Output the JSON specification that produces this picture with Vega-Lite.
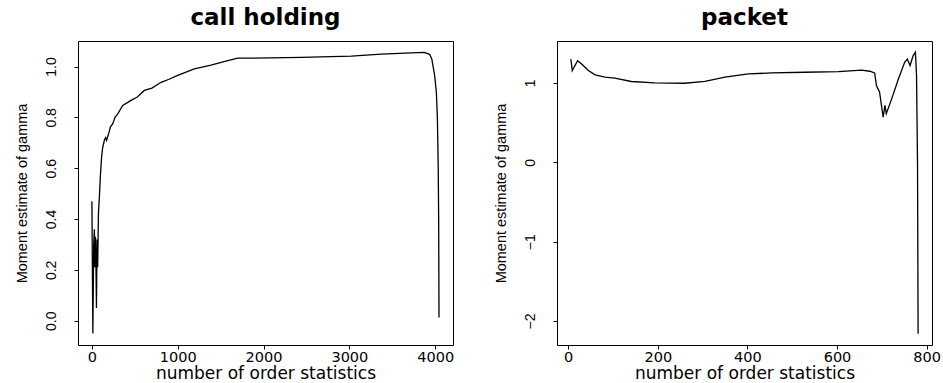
{
  "$schema": "https://vega.github.io/schema/vega-lite/v6.json",
  "background": "white",
  "padding": {"left": 13, "top": 6, "right": 0, "bottom": 0},
  "spacing": 104,
  "bounds": "flush",
  "config": {
    "view": {"stroke": "black", "strokeWidth": 1},
    "axis": {
      "domain": false, "grid": false, "tickColor": "black", "tickSize": 4, "tickWidth": 1,
      "labelColor": "black", "titleColor": "black", "titleFontWeight": "normal"
    },
    "axisX": {"labelFont": "DejaVu Sans", "labelFontSize": 14.5, "labelPadding": 1, "titleFont": "DejaVu Sans", "titleFontSize": 17, "titlePadding": 2},
    "axisY": {"labelFont": "Liberation Sans Narrow, Liberation Sans", "labelFontSize": 14, "labelAngle": -90, "labelPadding": 16, "titleFont": "Liberation Sans Narrow, Liberation Sans", "titleFontSize": 14.5, "titlePadding": 15},
    "title": {"font": "DejaVu Sans", "fontSize": 23, "fontWeight": "bold", "anchor": "middle", "offset": 11, "color": "black"}
  },
  "hconcat": [
    {
      "title": "call holding",
      "width": 375, "height": 304,
      "data": {"values": [
        {"k": 1, "gamma": 0.47}, {"k": 12, "gamma": -0.05}, {"k": 22, "gamma": 0.30}, {"k": 30, "gamma": 0.36},
        {"k": 36, "gamma": 0.21}, {"k": 42, "gamma": 0.33}, {"k": 48, "gamma": 0.22}, {"k": 54, "gamma": 0.05},
        {"k": 61, "gamma": 0.32}, {"k": 68, "gamma": 0.21}, {"k": 77, "gamma": 0.42}, {"k": 90, "gamma": 0.50},
        {"k": 100, "gamma": 0.57}, {"k": 113, "gamma": 0.64}, {"k": 126, "gamma": 0.68}, {"k": 146, "gamma": 0.71},
        {"k": 160, "gamma": 0.72}, {"k": 172, "gamma": 0.71}, {"k": 185, "gamma": 0.725}, {"k": 200, "gamma": 0.74},
        {"k": 216, "gamma": 0.762}, {"k": 244, "gamma": 0.775}, {"k": 270, "gamma": 0.80}, {"k": 302, "gamma": 0.814},
        {"k": 360, "gamma": 0.847}, {"k": 457, "gamma": 0.867}, {"k": 530, "gamma": 0.88}, {"k": 612, "gamma": 0.906},
        {"k": 700, "gamma": 0.915}, {"k": 806, "gamma": 0.938}, {"k": 900, "gamma": 0.95}, {"k": 1000, "gamma": 0.965},
        {"k": 1194, "gamma": 0.991}, {"k": 1388, "gamma": 1.006}, {"k": 1550, "gamma": 1.02}, {"k": 1700, "gamma": 1.033},
        {"k": 1857, "gamma": 1.033}, {"k": 2439, "gamma": 1.036}, {"k": 3022, "gamma": 1.041}, {"k": 3372, "gamma": 1.049},
        {"k": 3721, "gamma": 1.054}, {"k": 3873, "gamma": 1.056}, {"k": 3935, "gamma": 1.048}, {"k": 3960, "gamma": 1.03},
        {"k": 3993, "gamma": 0.965}, {"k": 4013, "gamma": 0.90}, {"k": 4025, "gamma": 0.80}, {"k": 4035, "gamma": 0.60},
        {"k": 4040, "gamma": 0.40}, {"k": 4044, "gamma": 0.013}
      ]},
      "mark": {"type": "line", "color": "black", "strokeWidth": 1.3, "clip": true},
      "encoding": {
        "x": {"field": "k", "type": "quantitative",
              "scale": {"domain": [-161, 4207], "nice": false, "zero": false},
              "axis": {"values": [0, 1000, 2000, 3000, 4000], "format": "d", "title": "number of order statistics"}},
        "y": {"field": "gamma", "type": "quantitative",
              "scale": {"domain": [-0.0955, 1.1005], "nice": false, "zero": false},
              "axis": {"values": [0, 0.2, 0.4, 0.6, 0.8, 1.0], "format": ".1f", "title": "Moment estimate of gamma"}}
      }
    },
    {
      "title": "packet",
      "width": 375, "height": 304,
      "data": {"values": [
        {"k": 6, "gamma": 1.30}, {"k": 9, "gamma": 1.156}, {"k": 21, "gamma": 1.28}, {"k": 30, "gamma": 1.239},
        {"k": 45, "gamma": 1.156}, {"k": 60, "gamma": 1.101}, {"k": 82, "gamma": 1.072}, {"k": 104, "gamma": 1.059},
        {"k": 141, "gamma": 1.018}, {"k": 193, "gamma": 1.0}, {"k": 260, "gamma": 0.996}, {"k": 305, "gamma": 1.018},
        {"k": 350, "gamma": 1.072}, {"k": 402, "gamma": 1.113}, {"k": 454, "gamma": 1.126}, {"k": 528, "gamma": 1.134},
        {"k": 603, "gamma": 1.143}, {"k": 655, "gamma": 1.16}, {"k": 673, "gamma": 1.147}, {"k": 684, "gamma": 1.126},
        {"k": 688, "gamma": 0.967}, {"k": 695, "gamma": 0.883}, {"k": 703, "gamma": 0.569}, {"k": 707, "gamma": 0.716},
        {"k": 710, "gamma": 0.611}, {"k": 722, "gamma": 0.799}, {"k": 737, "gamma": 1.05}, {"k": 751, "gamma": 1.26},
        {"k": 757, "gamma": 1.30}, {"k": 763, "gamma": 1.219}, {"k": 770, "gamma": 1.344}, {"k": 775, "gamma": 1.386},
        {"k": 777.5, "gamma": 1.093}, {"k": 779.7, "gamma": -0.03}, {"k": 781, "gamma": -2.16}
      ]},
      "mark": {"type": "line", "color": "black", "strokeWidth": 1.3, "clip": true},
      "encoding": {
        "x": {"field": "k", "type": "quantitative",
              "scale": {"domain": [-25, 812], "nice": false, "zero": false},
              "axis": {"values": [0, 200, 400, 600, 800], "format": "d", "title": "number of order statistics"}},
        "y": {"field": "gamma", "type": "quantitative",
              "scale": {"domain": [-2.302, 1.528], "nice": false, "zero": false},
              "axis": {"values": [-2, -1, 0, 1], "format": "d", "title": "Moment estimate of gamma"}}
      }
    }
  ]
}
